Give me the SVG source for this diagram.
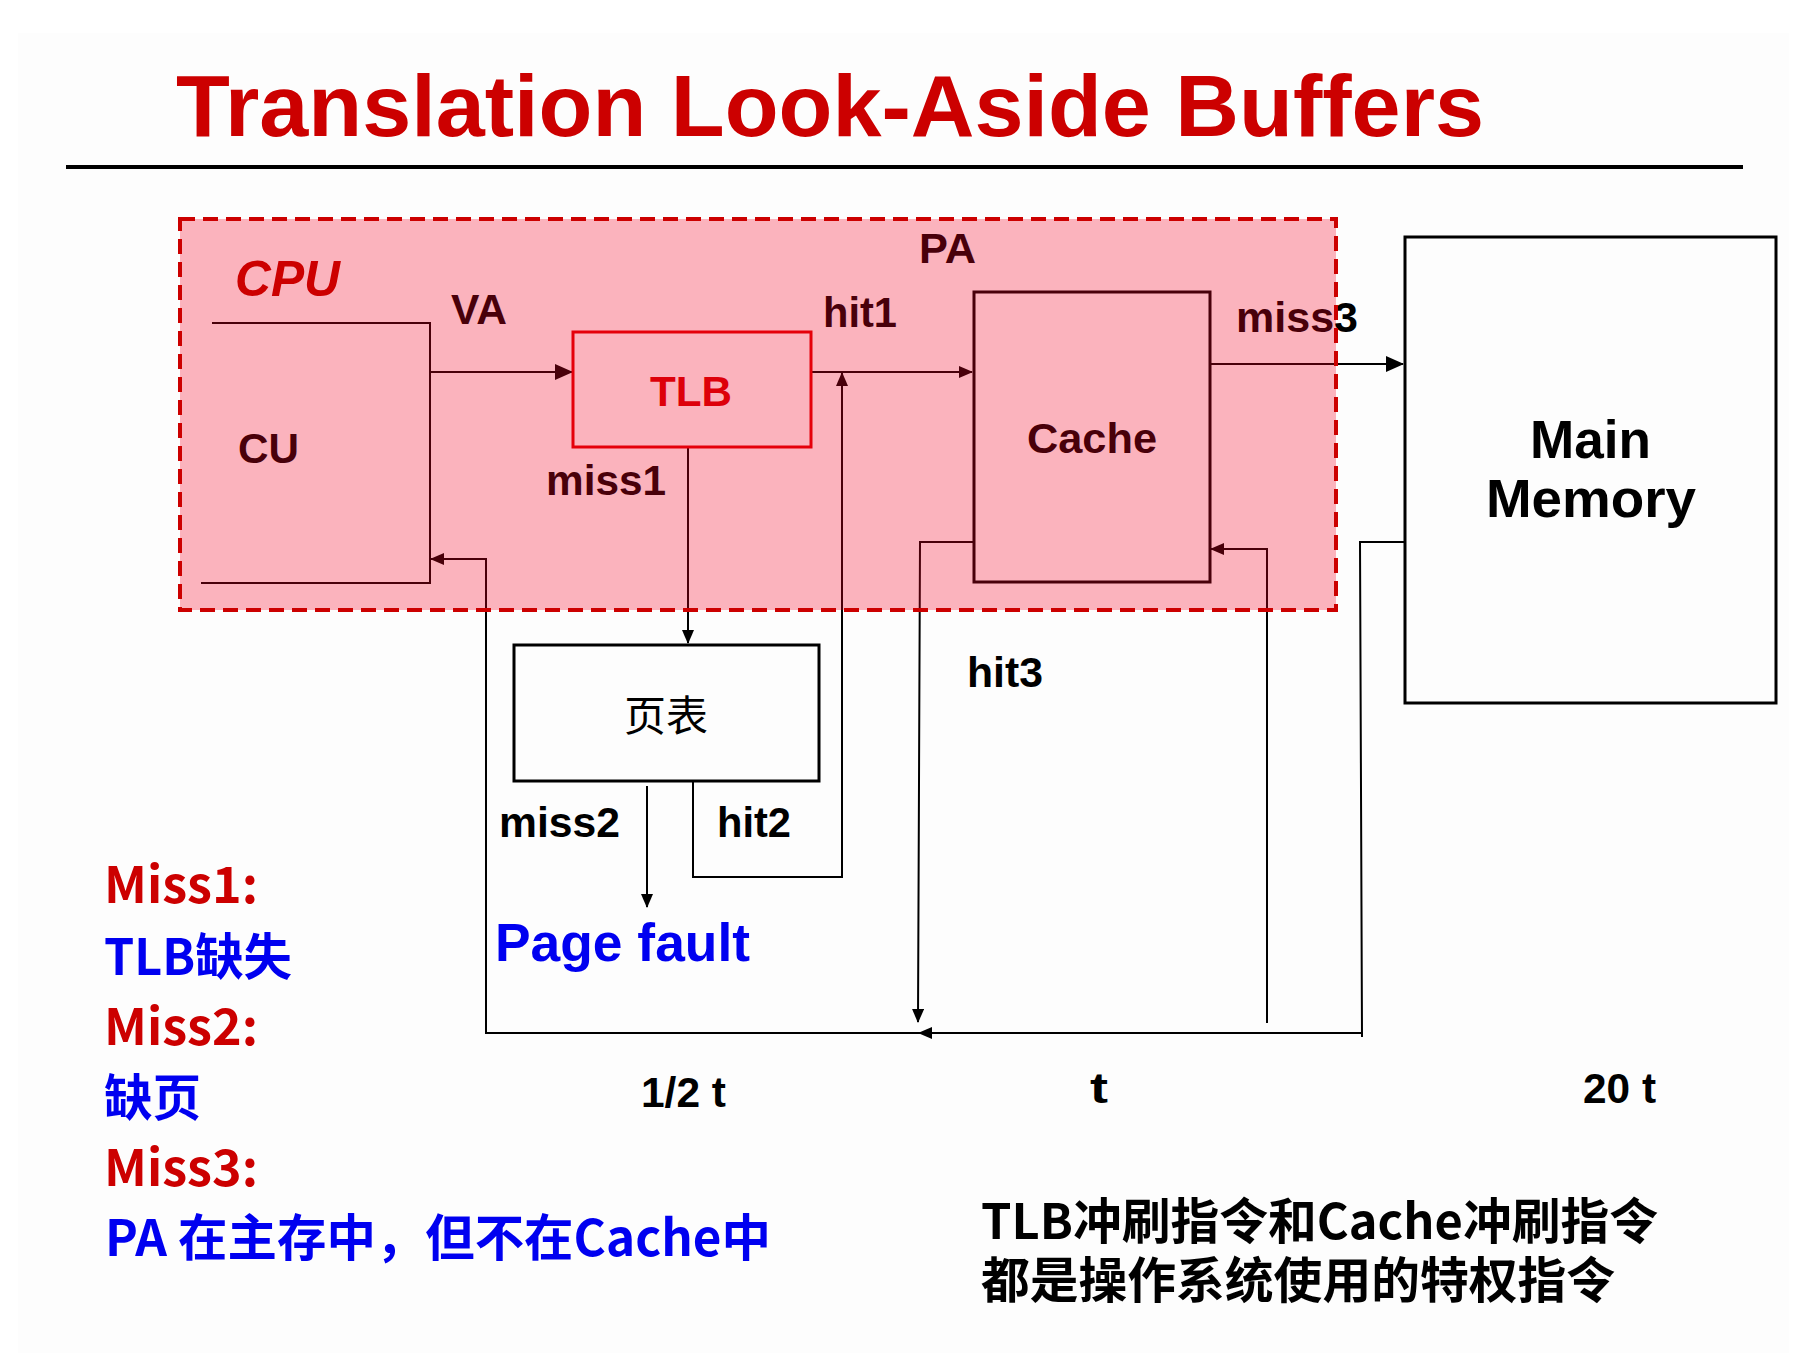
<svg xmlns="http://www.w3.org/2000/svg" width="1804" height="1364" viewBox="0 0 1804 1364">
<defs>
<style>
.lbl{font-family:"Liberation Sans",Arial,"Noto Sans CJK SC",sans-serif;font-weight:bold;font-size:42px;fill:#000}
.cjk{font-family:"Noto Sans CJK SC","Liberation Sans",sans-serif;font-weight:bold;font-size:50px}
.red{fill:#cc0000}
.blue{fill:#0000f0}
.ln{fill:none;stroke:#000;stroke-width:2}
.box{fill:none;stroke:#000;stroke-width:3}
</style>
<marker id="ah" markerUnits="userSpaceOnUse" markerWidth="14" markerHeight="12" refX="13" refY="6" orient="auto"><path d="M0,0 L14,6 L0,12 z" fill="#000"/></marker>
<marker id="ahb" markerUnits="userSpaceOnUse" markerWidth="18" markerHeight="16" refX="17" refY="8" orient="auto"><path d="M0,0 L18,8 L0,16 z" fill="#000"/></marker>
</defs>
<rect x="0" y="0" width="1804" height="1364" fill="#ffffff"/>
<rect x="18" y="33" width="1771" height="1320" fill="#fdfdfd"/>

<g id="title">
<text x="176" y="136" font-family="Liberation Sans,Arial,sans-serif" font-weight="bold" font-size="88" fill="#cc0000" textLength="1308" lengthAdjust="spacingAndGlyphs">Translation Look-Aside Buffers</text>
<line x1="66" y1="167" x2="1743" y2="167" stroke="#000" stroke-width="4"/>
</g>

<g id="connectors">
<line class="ln" x1="430" y1="372" x2="572" y2="372" stroke-width="3.5" marker-end="url(#ahb)"/>
<line class="ln" x1="811" y1="372" x2="972" y2="372" stroke-width="2.5" marker-end="url(#ah)"/>
<line class="ln" x1="688" y1="448" x2="688" y2="643" marker-end="url(#ah)"/>
<line class="ln" x1="647" y1="786" x2="647" y2="907" marker-end="url(#ah)"/>
<path class="ln" d="M693 782 V877 H842 V373" marker-end="url(#ah)"/>
<line class="ln" x1="1210" y1="364" x2="1403" y2="364" stroke-width="3" marker-end="url(#ahb)"/>
<path class="ln" d="M974 542 H920 L918 1022" marker-end="url(#ah)"/>
<path class="ln" d="M1363 1033 H919" stroke-width="3" marker-end="url(#ah)"/>
<path class="ln" d="M919 1033 H486 V559 H431" stroke-width="2.5" marker-end="url(#ah)"/>
<path class="ln" d="M1405 542 H1360 L1362 1037"/>
<path class="ln" d="M1267 1023 V549 H1211" marker-end="url(#ah)"/>
</g>

<g id="cu">
<path class="ln" d="M212 323 H430 V583 H201" stroke-width="3"/>
<text class="lbl" x="238" y="463" textLength="61" lengthAdjust="spacingAndGlyphs">CU</text>
</g>
<text class="lbl" x="451" y="324" textLength="56" lengthAdjust="spacingAndGlyphs">VA</text>

<g id="tlb">
<rect x="573" y="332" width="238" height="115" fill="none" stroke="#dd0000" stroke-width="3"/>
<text class="lbl" x="691" y="406" text-anchor="middle" style="fill:#d20000" textLength="82" lengthAdjust="spacingAndGlyphs">TLB</text>
</g>
<text class="lbl" x="546" y="495" textLength="120" lengthAdjust="spacingAndGlyphs">miss1</text>
<text class="lbl" x="919" y="263" textLength="57" lengthAdjust="spacingAndGlyphs">PA</text>
<text class="lbl" x="823" y="327" textLength="74" lengthAdjust="spacingAndGlyphs">hit1</text>

<g id="cache">
<rect class="box" x="974" y="292" width="236" height="290"/>
<text class="lbl" x="1027" y="453" textLength="130" lengthAdjust="spacingAndGlyphs">Cache</text>
</g>
<text class="lbl" x="1236" y="332" textLength="122" lengthAdjust="spacingAndGlyphs">miss3</text>

<g id="main-memory">
<rect class="box" x="1405" y="237" width="371" height="466"/>
<text class="lbl" x="1530" y="458" style="font-size:54px" textLength="121" lengthAdjust="spacingAndGlyphs">Main</text>
<text class="lbl" x="1486" y="517" style="font-size:54px" textLength="210" lengthAdjust="spacingAndGlyphs">Memory</text>
</g>

<g id="page-table">
<rect class="box" x="514" y="645" width="305" height="136" stroke-width="2.5"/>
<text x="666" y="731" text-anchor="middle" font-family="Noto Sans CJK SC,sans-serif" font-size="42" fill="#000">页表</text>
</g>
<text class="lbl" x="499" y="837" textLength="121" lengthAdjust="spacingAndGlyphs">miss2</text>
<text class="lbl" x="717" y="837" textLength="74" lengthAdjust="spacingAndGlyphs">hit2</text>
<text class="lbl" x="495" y="961" style="font-size:53px;fill:#0000f0" textLength="255" lengthAdjust="spacingAndGlyphs">Page fault</text>
<text class="lbl" x="967" y="687" textLength="76" lengthAdjust="spacingAndGlyphs">hit3</text>
<text class="lbl" x="641" y="1107" textLength="85" lengthAdjust="spacingAndGlyphs">1/2 t</text>
<text class="lbl" x="1090" y="1103" textLength="18" lengthAdjust="spacingAndGlyphs">t</text>
<text class="lbl" x="1583" y="1103" textLength="73" lengthAdjust="spacingAndGlyphs">20 t</text>

<g id="cpu">
<rect x="180" y="219" width="1156" height="391" fill="#f70023" fill-opacity="0.29" stroke="#cc0000" stroke-width="4" stroke-dasharray="15 8"/>
<text x="235" y="296" font-family="Liberation Sans,Arial,sans-serif" font-weight="bold" font-style="italic" font-size="50" fill="#cc0000" textLength="105" lengthAdjust="spacingAndGlyphs">CPU</text>
</g>

<g id="notes">
<text class="cjk red" x="104" y="903" textLength="154" lengthAdjust="spacingAndGlyphs">Miss1:</text>
<text class="cjk blue" x="104" y="975" textLength="188" lengthAdjust="spacingAndGlyphs">TLB缺失</text>
<text class="cjk red" x="104" y="1045" textLength="154" lengthAdjust="spacingAndGlyphs">Miss2:</text>
<text class="cjk blue" x="104" y="1116" textLength="97" lengthAdjust="spacingAndGlyphs">缺页</text>
<text class="cjk red" x="104" y="1186" textLength="154" lengthAdjust="spacingAndGlyphs">Miss3:</text>
<text class="cjk blue" x="105" y="1256" textLength="666" lengthAdjust="spacingAndGlyphs">PA 在主存中，但不在Cache中</text>
<text class="cjk" x="981" y="1239" style="font-size:49px" fill="#000" textLength="677" lengthAdjust="spacingAndGlyphs">TLB冲刷指令和Cache冲刷指令</text>
<text class="cjk" x="981" y="1298" style="font-size:49px" fill="#000" textLength="634" lengthAdjust="spacingAndGlyphs">都是操作系统使用的特权指令</text>
</g>
</svg>
